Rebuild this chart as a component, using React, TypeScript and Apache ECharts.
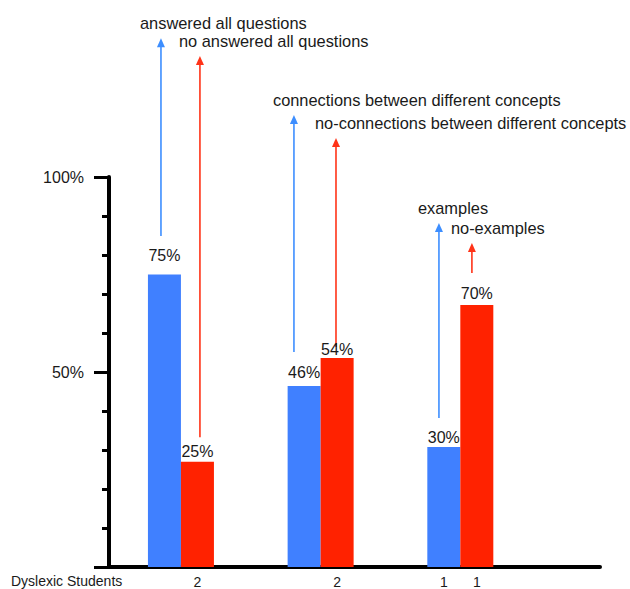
import React, { useEffect, useRef } from "react";
import * as echarts from "echarts";

// ---- data ----
const groupPositions = [1, 2, 3];
const blueValues = [75, 46.4, 30.8];
const redValues = [27, 53.6, 67.2];
const blueLabels = ["75%", "46%", "30%"];
const redLabels = ["25%", "54%", "70%"];
const blueCounts = ["", "", "1"];
const redCounts = ["2", "2", "1"];
const countTitle = "Dyslexic Students";

const arrowX = [0.857, 1.136, 1.809, 2.11, 2.847, 3.083];
const arrowFrom = [84.9, 33.3, 55.1, 56.4, 38.2, 75.4];
const arrowTo = [135.6, 131.0, 115.9, 110.0, 88.2, 83.1];
const arrowSide = [0, 1, 0, 1, 0, 1];
const arrowTexts = [
  "answered all questions",
  "no answered all questions",
  "connections between different concepts",
  "no-connections between different concepts",
  "examples",
  "no-examples",
];

// ---- styles ----
const FONT = '"Liberation Sans", Arial, Helvetica, sans-serif';
const BLUE = "#4080ff";
const RED = "#ff2200";
const ARROW_BLUE = "#3d8eff";
const ARROW_RED = "#ff3318";
const TEXT = "#1a1a1a";
const BAR_W = 33;
const blueLabelGap = [11, 6, 1];
const redLabelGap = [2, 0, 3];

export default function App() {
  const ref = useRef<HTMLDivElement>(null);

  useEffect(() => {
    if (!ref.current) return;
    const chart = echarts.init(ref.current, undefined, { renderer: "svg" });

    const barSeries = (
      name: string,
      values: number[],
      labels: string[],
      gaps: number[],
      color: string
    ) => ({
      name,
      type: "bar",
      barWidth: BAR_W,
      barGap: "0%",
      itemStyle: { color },
      data: values.map((v, i) => ({
        value: [groupPositions[i], v],
        label: { distance: gaps[i] },
      })),
      label: {
        show: true,
        position: "top",
        color: TEXT,
        fontSize: 16,
        fontFamily: FONT,
        formatter: (p: any) => labels[p.dataIndex],
      },
    });

    const countItems: any[] = [];
    blueCounts.forEach((t, i) => {
      if (t) countItems.push([groupPositions[i], 0, t]);
    });
    redCounts.forEach((t, i) => {
      if (t) countItems.push([groupPositions[i], 1, t]);
    });

    chart.setOption({
      animation: false,
      backgroundColor: "#ffffff",
      grid: {
        left: 109,
        right: 30,
        top: 177,
        bottom: 22,
        containLabel: false,
        outerBoundsMode: "none",
      },
      xAxis: {
        type: "value",
        min: 0.485,
        max: 4,
        axisLine: { show: true, onZero: false, lineStyle: { color: "#000", width: 4 } },
        axisTick: { show: false },
        axisLabel: { show: false },
        splitLine: { show: false },
      },
      yAxis: {
        type: "value",
        min: 0,
        max: 100,
        interval: 50,
        axisLine: { show: true, lineStyle: { color: "#000", width: 4 } },
        axisTick: { show: true, length: 15, lineStyle: { color: "#000", width: 3 } },
        minorTick: { show: true, splitNumber: 5, length: 7, lineStyle: { color: "#000", width: 3 } },
        splitLine: { show: false },
        minorSplitLine: { show: false },
        axisLabel: {
          margin: 25,
          color: TEXT,
          fontSize: 16,
          fontFamily: FONT,
          formatter: (v: number) => (v === 0 ? "" : v + "%"),
        },
      },
      graphic: [
        {
          type: "text",
          left: 11,
          top: 574,
          style: { text: countTitle, fill: TEXT, fontSize: 14, fontFamily: FONT },
        },
      ],
      series: [
        barSeries("blue", blueValues, blueLabels, blueLabelGap, BLUE),
        barSeries("red", redValues, redLabels, redLabelGap, RED),
        {
          type: "custom",
          name: "arrows",
          coordinateSystem: "cartesian2d",
          clip: false,
          silent: true,
          data: arrowX.map((x, i) => [x, arrowFrom[i], arrowTo[i], arrowSide[i]]),
          encode: { x: 0, y: [1, 2] },
          renderItem: (params: any, api: any) => {
            const x = api.value(0);
            const p0 = api.coord([x, api.value(1)]);
            const p1 = api.coord([x, api.value(2)]);
            const color = api.value(3) === 0 ? ARROW_BLUE : ARROW_RED;
            const px = p0[0];
            const tip = p1[1];
            return {
              type: "group",
              children: [
                {
                  type: "line",
                  shape: { x1: px, y1: p0[1], x2: px, y2: tip + 6 },
                  style: { stroke: color, lineWidth: 1.6 },
                },
                {
                  type: "polygon",
                  shape: { points: [[px, tip], [px - 4, tip + 9], [px + 4, tip + 9]] },
                  style: { fill: color },
                },
                {
                  type: "text",
                  x: px - 21,
                  y: tip - 15,
                  style: {
                    text: arrowTexts[params.dataIndex],
                    fill: TEXT,
                    fontSize: 16.4,
                    fontFamily: FONT,
                    align: "left",
                    verticalAlign: "middle",
                  },
                },
              ],
            };
          },
        },
        {
          type: "custom",
          name: "counts",
          coordinateSystem: "cartesian2d",
          clip: false,
          silent: true,
          data: countItems,
          encode: { x: 0, y: 1 },
          renderItem: (params: any, api: any) => {
            const item = countItems[params.dataIndex];
            const p = api.coord([item[0], 0]);
            const px = p[0] + (item[1] === 0 ? -BAR_W / 2 : BAR_W / 2);
            return {
              type: "text",
              x: px,
              y: p[1] + 15,
              style: {
                text: item[2],
                fill: TEXT,
                fontSize: 14,
                fontFamily: FONT,
                align: "center",
                verticalAlign: "middle",
              },
            };
          },
        },
      ],
    });

    return () => chart.dispose();
  }, []);

  return (
    <div
      ref={ref}
      style={{ position: "fixed", left: 0, top: 0, width: 630, height: 589, background: "#fff" }}
    />
  );
}
